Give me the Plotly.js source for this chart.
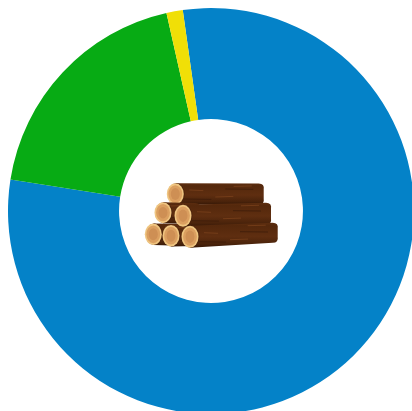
<!DOCTYPE html>
<html>
<head>
<meta charset="utf-8">
<script src="https://cdn.plot.ly/plotly-3.0.1.min.js"></script>
<style>html,body{margin:0;padding:0;background:#fff;overflow:hidden;width:412px;height:411px}#chart{width:422px;height:422px}</style>
</head>
<body>
<div id="chart"></div>
<script>
var categories = ["Blue", "Green", "Yellow"];
var values = [79.7, 19.0, 1.3];
var colors = ["#0482C8", "#07AB14", "#F0DF07"];

function logBody(cx, cy, rx, ry, xr, yrTop, yrBot) {
  return '<path d="M' + cx + ' ' + (cy - ry) + ' L' + (xr - 5) + ' ' + yrTop +
    ' Q' + (xr + 1) + ' ' + yrTop + ' ' + xr + ' ' + (yrTop + 6) +
    ' L' + xr + ' ' + (yrBot - 6) +
    ' Q' + (xr + 1) + ' ' + yrBot + ' ' + (xr - 5) + ' ' + yrBot +
    ' L' + cx + ' ' + (cy + ry) + ' Z" fill="url(#wood)"/>' +
    '<path d="M' + (cx + 14) + ' ' + (cy - 4) + ' l14 0.6 M' + (cx + 40) + ' ' + (cy + 3) + ' l18 -0.6 M' + (xr - 30) + ' ' + (yrTop + 3) + ' l18 -0.5" stroke="#7E431D" stroke-width="0.7" fill="none"/>' +
    '<path d="M' + (cx + 6) + ' ' + (cy + 5) + ' l30 0.4 M' + (cx + 50) + ' ' + (cy - 5) + ' l28 0.3" stroke="#3A1A08" stroke-width="0.7" fill="none"/>';
}
function logEnd(cx, cy, rx, ry) {
  return '<ellipse cx="' + (cx + 0.9) + '" cy="' + cy + '" rx="' + rx + '" ry="' + ry + '" fill="#4A230C"/>' +
    '<ellipse cx="' + cx + '" cy="' + cy + '" rx="' + rx + '" ry="' + ry + '" fill="#EFC581"/>' +
    '<ellipse cx="' + cx + '" cy="' + cy + '" rx="' + (rx - 1.6) + '" ry="' + (ry - 1.9) + '" fill="#DB9F60"/>' +
    '<ellipse cx="' + cx + '" cy="' + cy + '" rx="' + (rx - 4) + '" ry="' + (ry - 4.8) + '" fill="#CE8F54"/>';
}
var svg = '<svg xmlns="http://www.w3.org/2000/svg" width="580" height="296" viewBox="140 178 145 74">' +
  '<defs><linearGradient id="wood" x1="0" y1="0" x2="0" y2="1">' +
  '<stop offset="0" stop-color="#5E2E10"/><stop offset="0.12" stop-color="#54280C"/>' +
  '<stop offset="0.55" stop-color="#5F2E10"/><stop offset="0.85" stop-color="#4A230B"/><stop offset="1" stop-color="#361806"/>' +
  '</linearGradient></defs>' +
  logBody(175.3, 194, 8.5, 10.7, 263.7, 183.4, 204.6) + logEnd(175.3, 194, 8.5, 10.7) +
  logBody(163, 212.7, 8.5, 10.5, 200, 203, 224) + logEnd(163, 212.7, 8.5, 10.5) +
  logBody(153.3, 234.3, 8.5, 10.8, 195, 224, 246) + logEnd(153.3, 234.3, 8.5, 10.8) +
  logBody(171, 235.7, 8.5, 10.8, 200, 225, 246) + logEnd(171, 235.7, 8.5, 10.8) +
  logBody(183, 215.7, 8.5, 11, 271, 202.8, 224.6) + logEnd(183, 215.7, 8.5, 11) +
  logBody(190, 236.7, 8.5, 11, 277.7, 222.7, 242.8) + logEnd(190, 236.7, 8.5, 11) +
  '</svg>';

var W = 422;
Plotly.newPlot("chart", [{
  type: "pie",
  labels: categories,
  values: values,
  sort: false,
  direction: "clockwise",
  rotation: -8,
  hole: 0.453,
  textinfo: "none",
  marker: {colors: colors, line: {width: 0}},
  domain: {x: [8 / W, 414 / W], y: [8 / W, 414 / W]}
}], {
  width: W,
  height: W,
  margin: {l: 0, r: 0, t: 0, b: 0},
  showlegend: false,
  paper_bgcolor: "#fff",
  images: [{
    source: "data:image/svg+xml;charset=utf-8," + encodeURIComponent(svg),
    xref: "paper", yref: "paper",
    x: 140 / W, y: 1 - 178 / W,
    sizex: 145 / W, sizey: 74 / W,
    xanchor: "left", yanchor: "top",
    sizing: "stretch", layer: "above"
  }]
}, {displayModeBar: false, staticPlot: true});
</script>
</body>
</html>
